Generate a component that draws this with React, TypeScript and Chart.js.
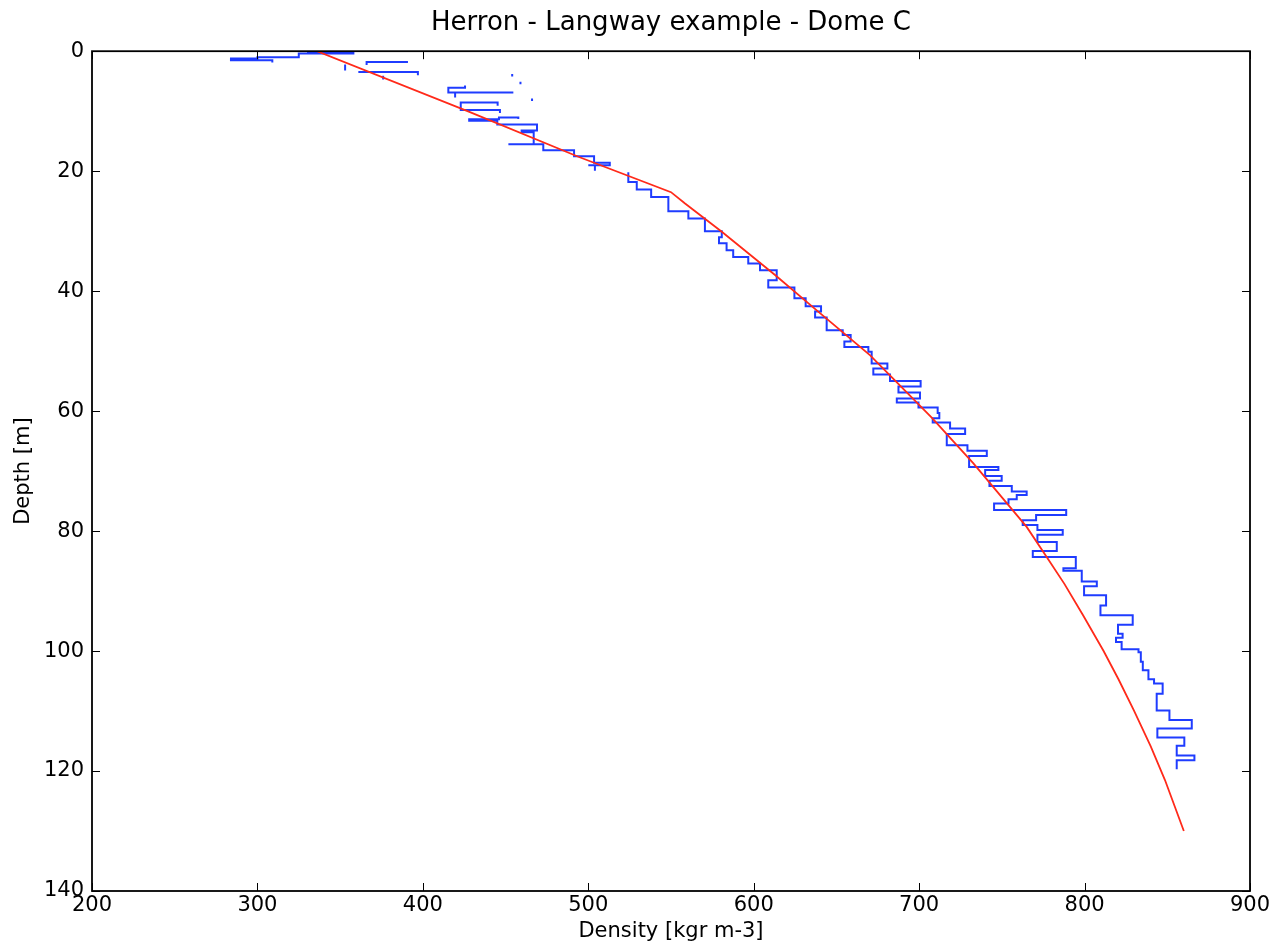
import { useEffect, useRef } from 'react';
import { Chart, registerables } from 'chart.js';

Chart.register(...registerables);

// Herron - Langway densification model (kg m-3 vs depth m)
const modelDepth = [0, 10, 17.6, 23.5, 25.4, 30.1, 37.3, 43.2, 50.7, 61.1, 68.7, 79.3, 84.3, 88.8, 94, 100, 104.7, 109.9, 115.9, 121.5, 130];
const modelDensity = [336, 427, 494, 550, 558.5, 580.7, 612.9, 638.1, 670.4, 707.6, 732.8, 765, 777.1, 787.8, 799, 811.5, 820.5, 829.8, 840, 848.6, 860];

// Measured density profile, drawn as steps; null marks a break in the record
const profileDensity: (number | null)[] = [
  330, 358, 358, 325, 325, 300, 300, 284, 284, 309, 309, null,
  353, 353, null,
  366, 366, 391, null,
  361, 397, 397, null,
  376, 376, null,
  454, 454, null,
  459, 459, null,
  466, 466, null,
  425.5, 425.5, 415.4, 415.4, 454.7, null,
  419.5, 419.5, null,
  445.2, 445.2, 422.9, 422.9, 446.6, 446.6, null,
  457.7, 457.7, 446, 446, 428, 428, 445, 445, 469, 469, 459.7, 459.7, 467, 467, 451.7, 472.8,
  472.8, 491.4, 491.4, 503.5, 503.5, 513, 513, 500, 504, 504, null,
  524.2, 524.2, 529.3, 529.3, 538, 538, 548.4, 548.4, 560.5, 560.5, 570.5, 570.5, 580.7, 580.7,
  579, 579, 583.6, 583.6, 587.6, 587.6, 596.7, 596.7, 603.8, 603.8, 613.9, 613.9, 608.8, 608.8,
  624.6, 624.6, 631.4, 631.4, 640.7, 640.7, 637.1, 637.1, 644.1, 644.1, 653.8, 653.8, 658.6, 658.6,
  654.8, 654.8, 669.3, 669.3, 671.3, 671.3, 680.8, 680.8, 672.3, 672.3, 682.4, 682.4, 700.9, 700.9,
  687.5, 687.5, 700.5, 700.5, 686.5, 686.5, 699.6, 699.6, 711.2, 711.2, 712.2, 712.2, 708.2, 708.2,
  718.7, 718.7, 727.8, 727.8, 716.7, 716.7, 729.2, 729.2, 740.9, 740.9, 730.2, 730.2, 747.9, 747.9,
  739.9, 739.9, 749.9, 749.9, 742.5, 742.5, 756, 756, 765, 765, 759, 759, 754, 754,
  745.3, 745.3, 788.9, 788.9, 770.7, 770.7, 762.6, 762.6, 771.5, 771.5, 786.8, 786.8, 771.5, 771.5,
  783.2, 783.2, 768.7, 768.7, 794.7, 794.7, 787.2, 787.2, 798.3, 798.3, 807.4, 807.4, 799.7, 799.7,
  813, 813, 809.6, 809.6, 829.1, 829.1, 820.2, 820.2, 823, 823, 819, 819, 822.4, 822.4,
  832.6, 832.6, 834, 834, 835.2, 835.2, 838.6, 838.6, 842, 842, 847.2, 847.2, 843.6, 843.6,
  851.3, 851.3, 864.8, 864.8, 844, 844, 860.3, 860.3, 855.7, 855.7, 866.4, 866.4, 855.7, 855.7,
];
const profileDepth: (number | null)[] = [
  0.1, 0.1, 0.4, 0.4, 1.0, 1.0, 1.2, 1.2, 1.5, 1.5, 1.9, null,
  2.2, 3.2, null,
  2.3, 1.8, 1.8, null,
  3.45, 3.45, 4.0, null,
  4.1, 4.7, null,
  3.8, 4.2, null,
  5.1, 5.5, null,
  7.9, 8.3, null,
  5.7, 6.1, 6.1, 6.9, 6.9, null,
  7.0, 7.7, null,
  9.1, 8.55, 8.55, 9.8, 9.8, 10.3, null,
  11.3, 11.05, 11.05, 11.35, 11.35, 11.6, 11.6, 12.2, 12.2, 13.2, 13.2, 13.5, 13.5, 15.5, 15.5, 15.5,
  16.5, 16.5, 17.5, 17.5, 18.6, 18.6, 19.0, 19.0, 19.0, 19.95, null,
  20.2, 21.8, 21.8, 23.05, 23.05, 24.3, 24.3, 26.7, 26.7, 27.9, 27.9, 30.0, 30.0, 31.0,
  31.0, 32.0, 32.0, 33.2, 33.2, 34.3, 34.3, 35.4, 35.4, 36.5, 36.5, 38.2, 38.2, 39.4,
  39.4, 41.2, 41.2, 42.5, 42.5, 43.4, 43.4, 44.4, 44.4, 46.5, 46.5, 47.3, 47.3, 48.4,
  48.4, 49.3, 49.3, 50.1, 50.1, 52.05, 52.05, 52.9, 52.9, 53.9, 53.9, 55.0, 55.0, 55.9,
  55.9, 56.9, 56.9, 57.9, 57.9, 58.55, 58.55, 59.4, 59.4, 60.3, 60.3, 61.2, 61.2, 61.9,
  61.9, 62.9, 62.9, 63.8, 63.8, 65.7, 65.7, 66.6, 66.6, 67.5, 67.5, 69.3, 69.3, 69.8,
  69.8, 70.8, 70.8, 71.6, 71.6, 72.5, 72.5, 73.4, 73.4, 74.0, 74.0, 74.7, 74.7, 75.4,
  75.4, 76.5, 76.5, 77.3, 77.3, 78.2, 78.2, 79.0, 79.0, 79.8, 79.8, 80.6, 80.6, 81.8,
  81.8, 83.3, 83.3, 84.3, 84.3, 86.2, 86.2, 86.6, 86.6, 88.4, 88.4, 89.2, 89.2, 90.7,
  90.7, 92.4, 92.4, 94.05, 94.05, 95.6, 95.6, 97.1, 97.1, 97.8, 97.8, 98.5, 98.5, 99.7,
  99.7, 100.2, 100.2, 101.8, 101.8, 103.2, 103.2, 104.7, 104.7, 105.4, 105.4, 107.1, 107.1, 109.9,
  109.9, 111.5, 111.5, 112.9, 112.9, 114.4, 114.4, 115.8, 115.8, 117.4, 117.4, 118.2, 118.2, 119.7,
];

const densityTicks = [200, 300, 400, 500, 600, 700, 800, 900];
const depthTicks = [0, 20, 40, 60, 80, 100, 120, 140];

const FONT = 'DejaVu Sans';

// Black frame around the plot area with inward tick marks on all four sides
const frameTicks = {
  id: 'frameTicks',
  afterDatasetsDraw(chart: any) {
    const { ctx, chartArea: a, scales } = chart;
    const xs = scales.x;
    const ys = scales.y;
    const len = 8;
    ctx.save();
    ctx.strokeStyle = '#000';
    ctx.lineWidth = 1;
    ctx.beginPath();
    for (const v of densityTicks) {
      const px = Math.round(xs.getPixelForValue(v)) + 0.5;
      ctx.moveTo(px, a.bottom);
      ctx.lineTo(px, a.bottom - len);
      ctx.moveTo(px, a.top);
      ctx.lineTo(px, a.top + len);
    }
    for (const v of depthTicks) {
      const py = Math.round(ys.getPixelForValue(v)) + 0.5;
      ctx.moveTo(a.left, py);
      ctx.lineTo(a.left + len, py);
      ctx.moveTo(a.right, py);
      ctx.lineTo(a.right - len, py);
    }
    ctx.stroke();
    ctx.lineWidth = 1.8;
    ctx.strokeRect(a.left, a.top, a.right - a.left, a.bottom - a.top);
    ctx.restore();
  },
};

export default function App() {
  const canvasRef = useRef<HTMLCanvasElement | null>(null);

  useEffect(() => {
    if (!canvasRef.current) return;
    const modelPoints = modelDepth.map((z, i) => ({ x: modelDensity[i], y: z }));
    const profilePoints = profileDepth.map((z, i) => ({ x: profileDensity[i], y: z }));

    const chart = new Chart(canvasRef.current, {
      type: 'scatter',
      data: {
        datasets: [
          {
            label: 'Herron - Langway',
            data: modelPoints as any,
            showLine: true,
            borderColor: '#ff2a1a',
            borderWidth: 1.8,
            pointRadius: 0,
            order: 0,
          },
          {
            label: 'Dome C',
            data: profilePoints as any,
            showLine: true,
            spanGaps: false,
            borderColor: '#1f3cff',
            borderWidth: 2,
            pointRadius: 0,
            order: 1,
          },
        ],
      },
      options: {
        responsive: false,
        animation: false,
        devicePixelRatio: 1,
        layout: { padding: { left: 0, right: 24, top: 0, bottom: 0 } },
        plugins: {
          legend: { display: false },
          tooltip: { enabled: false },
          title: {
            display: true,
            fullSize: false,
            text: 'Herron - Langway example - Dome C',
            color: '#000',
            font: { family: FONT, size: 26, weight: 'normal' },
            padding: { top: 8, bottom: 12 },
          },
        },
        scales: {
          x: {
            type: 'linear',
            position: 'bottom',
            min: 200,
            max: 900,
            grid: { display: false, drawTicks: false },
            border: { display: false },
            ticks: {
              stepSize: 100,
              autoSkip: false,
              maxRotation: 0,
              color: '#000',
              padding: 2,
              font: { family: FONT, size: 21 },
            },
            title: {
              display: true,
              text: 'Density [kgr m-3]',
              color: '#000',
              font: { family: FONT, size: 21 },
              padding: { top: 0, bottom: 4 },
            },
            afterFit(scale: any) {
              scale.height = 57;
              scale.paddingLeft = 0;
              scale.paddingRight = 0;
            },
          },
          y: {
            type: 'linear',
            reverse: true,
            min: 0,
            max: 140,
            grid: { display: false, drawTicks: false },
            border: { display: false },
            ticks: {
              stepSize: 20,
              autoSkip: false,
              color: '#000',
              padding: 8,
              font: { family: FONT, size: 21 },
            },
            title: {
              display: true,
              text: 'Depth [m]',
              color: '#000',
              font: { family: FONT, size: 21 },
              padding: { top: 11, bottom: 0 },
            },
            afterFit(scale: any) {
              scale.width = 92;
            },
          },
        },
      },
      plugins: [frameTicks],
    });

    return () => chart.destroy();
  }, []);

  return (
    <div style={{ position: 'fixed', left: 0, top: 0, width: 1274, height: 948, background: '#fff' }}>
      <canvas ref={canvasRef} width={1274} height={948} style={{ display: 'block' }} />
    </div>
  );
}
